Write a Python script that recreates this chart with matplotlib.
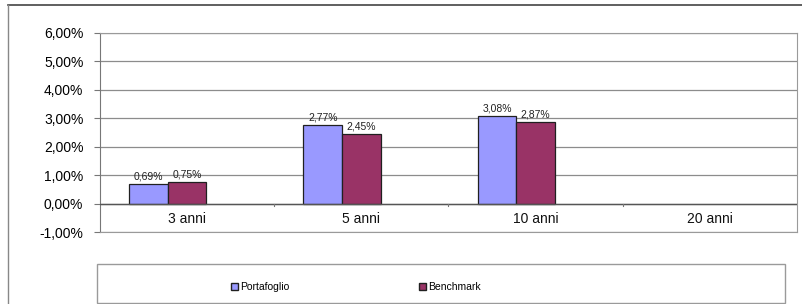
import matplotlib
matplotlib.use("Agg")
import matplotlib.pyplot as plt
from matplotlib.patches import Rectangle, Patch
from matplotlib.lines import Line2D
import numpy as np

plt.rcParams['font.family'] = ['Liberation Sans', 'DejaVu Sans']

categorie = ['3 anni', '5 anni', '10 anni', '20 anni']
portafoglio = [0.69, 2.77, 3.08, np.nan]
benchmark = [0.75, 2.45, 2.87, np.nan]
yticks = [-1, 0, 1, 2, 3, 4, 5, 6]

col_p = '#9999FF'
col_b = '#993366'

fig = plt.figure(figsize=(8.03, 3.04), dpi=100)
ax = fig.add_axes([100/803, (304-232)/304, 697/803, 199/304])

x = np.arange(len(categorie))
w = 0.222
bp = ax.bar(x - w, portafoglio, w, color=col_p, edgecolor='#202020', linewidth=0.9, zorder=3)
bb = ax.bar(x, benchmark, w, color=col_b, edgecolor='#202020', linewidth=0.9, zorder=3)

def fmt(v):
    return ('%.2f' % v).replace('.', ',') + '%'

for rects, vals in [(bp, portafoglio), (bb, benchmark)]:
    for r, v in zip(rects, vals):
        if np.isnan(v):
            continue
        ax.text(r.get_x() + r.get_width()/2, v + 0.08, fmt(v), ha='center', va='bottom',
                fontsize=7.5, color='#222222')

ax.set_xlim(-0.5, len(categorie) - 0.5)
ax.set_ylim(-1, 6)
ax.set_yticks(yticks)
ax.set_yticklabels([fmt(v) for v in yticks], fontsize=10)
ax.yaxis.grid(True, color='#8c8c8c', linewidth=0.9, zorder=0)
ax.tick_params(axis='y', length=4, width=0.8, color='#777777', pad=8)

# asse categorie sullo zero
ax.axhline(0, color='#555555', linewidth=1, zorder=4)
ax.set_xticks([])
for b in np.arange(0.5, len(categorie) - 0.5):
    ax.plot([b, b], [0, -0.1], color='#777777', linewidth=0.8, zorder=4, clip_on=False)
for xi, c in zip(x, categorie):
    ax.text(xi, -0.55, c, ha='center', va='center', fontsize=10, color='#111111')

for s in ['top', 'right', 'bottom']:
    ax.spines[s].set_color('#9a9a9a')
ax.spines['left'].set_color('#777777')

# cornice esterna
fig.add_artist(Line2D([8/803, 1], [1 - 5/304, 1 - 5/304], color='#444444', linewidth=1.2))
fig.add_artist(Line2D([8/803, 8/803], [0, 1 - 5/304], color='#888888', linewidth=1.0))

# legenda
fig.add_artist(Rectangle((97/803, 1/304), 688/803, 39/304, transform=fig.transFigure,
                         facecolor='white', edgecolor='#9a9a9a', linewidth=1.0))
leg_kw = dict(frameon=False, fontsize=7.5, handlelength=0.7, handleheight=0.7,
              handletextpad=0.2, borderpad=0, borderaxespad=0)
fig.legend(handles=[Patch(facecolor=col_p, edgecolor='#202020', label='Portafoglio')],
           loc='center left', bbox_to_anchor=(231/803, 1 - 287/304), **leg_kw)
fig.legend(handles=[Patch(facecolor=col_b, edgecolor='#202020', label='Benchmark')],
           loc='center left', bbox_to_anchor=(419/803, 1 - 287/304), **leg_kw)

fig.savefig('out.png', dpi=100)
